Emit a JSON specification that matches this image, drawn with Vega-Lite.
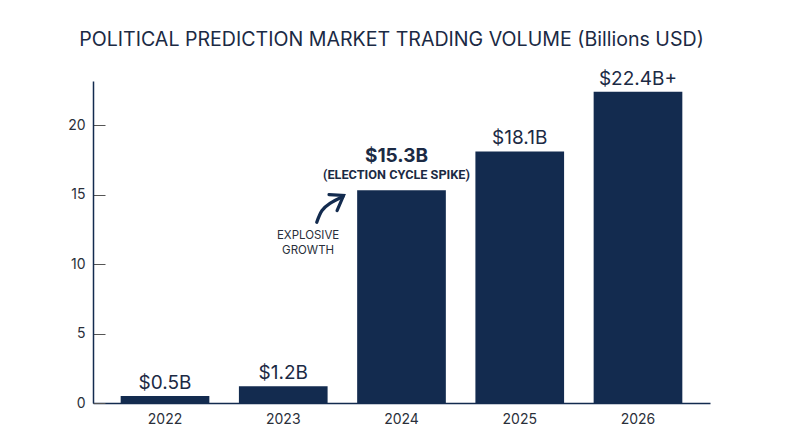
{
  "$schema": "https://vega.github.io/schema/vega-lite/v6.json",
  "width": 617,
  "height": 322,
  "padding": {"left": 93, "top": 81, "right": 90, "bottom": 44},
  "autosize": "none",
  "background": "white",
  "title": {
    "text": "POLITICAL PREDICTION MARKET TRADING VOLUME (Billions USD)",
    "font": "Inter",
    "fontSize": 19.6,
    "fontWeight": "normal",
    "color": "#1b2a44",
    "anchor": "middle",
    "dx": -10,
    "offset": 19
  },
  "datasets": {
    "bars": [
      {"year": "2022", "volume": 0.5, "label": "$0.5B"},
      {"year": "2023", "volume": 1.2, "label": "$1.2B"},
      {"year": "2024", "volume": 15.3, "label": "$15.3B"},
      {"year": "2025", "volume": 18.1, "label": "$18.1B"},
      {"year": "2026", "volume": 22.4, "label": "$22.4B+"}
    ],
    "shaft": [
      {"pos": 2023.283, "val": 13.0, "seq": 1},
      {"pos": 2023.328, "val": 13.85, "seq": 2},
      {"pos": 2023.395, "val": 14.36, "seq": 3},
      {"pos": 2023.505, "val": 14.86, "seq": 4}
    ],
    "head": [
      {"pos": 2023.387, "val": 15.0, "seq": 1},
      {"pos": 2023.51, "val": 14.93, "seq": 2},
      {"pos": 2023.455, "val": 13.85, "seq": 3}
    ],
    "notes": [
      {"pos": 2023.21, "val": 11.99, "note": "EXPLOSIVE"},
      {"pos": 2023.21, "val": 10.91, "note": "GROWTH"}
    ]
  },
  "layer": [
    {
      "encoding": {
        "x": {
          "field": "year",
          "type": "nominal",
          "scale": {"paddingInner": 0.25, "paddingOuter": 0.234},
          "axis": {
            "title": null,
            "labelAngle": 0,
            "ticks": false,
            "labelPadding": 9,
            "labelFont": "Inter",
            "labelFontSize": 14,
            "labelColor": "#2a2f3a",
            "domainColor": "#132b4f",
            "domainWidth": 1.5
          }
        },
        "y": {
          "field": "volume",
          "type": "quantitative",
          "scale": {"domain": [0, 23.17], "nice": false},
          "axis": {
            "title": null,
            "values": [0, 5, 10, 15, 20],
            "grid": false,
            "tickSize": -12,
            "tickColor": "#555555",
            "labelPadding": 20,
            "labelFont": "Inter",
            "labelFontSize": 14,
            "labelColor": "#2a2f3a",
            "domainColor": "#132b4f",
            "domainWidth": 1.5
          }
        }
      },
      "data": {"name": "bars"},
      "layer": [
        {"mark": {"type": "bar", "color": "#132b4f"}},
        {
          "transform": [{"filter": "datum.year != '2024'"}],
          "mark": {"type": "text", "font": "Inter", "fontSize": 19, "color": "#1b2a44", "baseline": "bottom", "dy": -3},
          "encoding": {"text": {"field": "label"}}
        },
        {
          "transform": [{"filter": "datum.year == '2024'"}],
          "mark": {"type": "text", "font": "Inter", "fontSize": 19, "fontWeight": "bold", "color": "#1b2a44", "baseline": "bottom", "dy": -24, "dx": -5},
          "encoding": {"text": {"field": "label"}}
        },
        {
          "transform": [{"filter": "datum.year == '2024'"}],
          "mark": {"type": "text", "text": "(ELECTION CYCLE SPIKE)", "font": "Roboto", "fontSize": 12.7, "fontWeight": "bold", "color": "#1b2a44", "baseline": "bottom", "dy": -8, "dx": -5}
        }
      ]
    },
    {
      "encoding": {
        "x": {"field": "pos", "type": "quantitative", "scale": {"domain": [2021.391, 2026.609], "nice": false, "zero": false}, "axis": null},
        "y": {"field": "val", "type": "quantitative"}
      },
      "layer": [
        {
          "data": {"name": "shaft"},
          "mark": {"type": "line", "color": "#132b4f", "strokeWidth": 3.2, "interpolate": "cardinal", "strokeCap": "round"},
          "encoding": {"order": {"field": "seq"}}
        },
        {
          "data": {"name": "head"},
          "mark": {"type": "line", "color": "#132b4f", "strokeWidth": 3.2, "strokeJoin": "miter", "strokeCap": "round"},
          "encoding": {"order": {"field": "seq"}}
        },
        {
          "data": {"name": "notes"},
          "mark": {"type": "text", "font": "Inter", "fontSize": 11.5, "color": "#2a2f3a"},
          "encoding": {"text": {"field": "note"}}
        }
      ]
    }
  ],
  "resolve": {"scale": {"x": "independent"}, "axis": {"x": "independent"}},
  "config": {"view": {"stroke": null}}
}
